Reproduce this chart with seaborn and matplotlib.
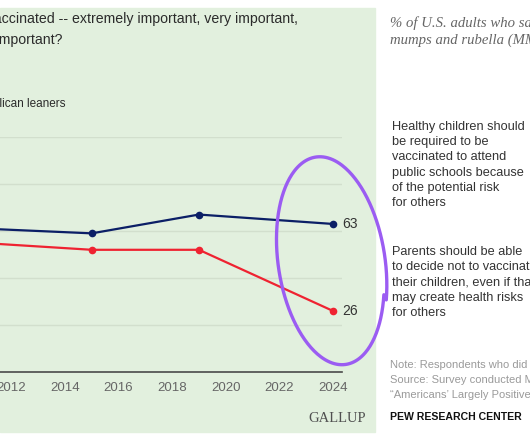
import numpy as np
import pandas as pd
import matplotlib
matplotlib.use('Agg')
import matplotlib.pyplot as plt
import seaborn as sns
from matplotlib.lines import Line2D
from matplotlib.patches import Rectangle

# Gallup: % saying it is extremely important to vaccinate children, by party
years = [2001, 2015, 2019, 2024]
dem_values = [66, 59, 67, 63]
rep_values = [62, 52, 52, 26]
series_names = ['Democrats and Democratic leaners', 'Republicans and Republican leaners']
series_colors = {'Democrats and Democratic leaners': '#0b1f66',
                 'Republicans and Republican leaners': '#ef2331'}
x_ticks = list(range(2012, 2025, 2))
y_ticks = [0, 20, 40, 60, 80, 100]

gallup_title = ['How important is it that parents get their children vaccinated -- extremely important, very important,',
                'somewhat important or not at all important?']

# Pew side (cropped)
pew_title = ['% of U.S. adults who say, when it comes to the measles,',
             'mumps and rubella (MMR) vaccine, ...']
pew_label_1 = ['Healthy children should', 'be required to be', 'vaccinated to attend',
               'public schools because', 'of the potential risk', 'for others']
pew_label_2 = ['Parents should be able', 'to decide not to vaccinate', 'their children, even if that',
               'may create health risks', 'for others']
pew_notes = ['Note: Respondents who did not give an answer are not shown.',
             'Source: Survey conducted May 16-22, 2022.',
             '\u201cAmericans\u2019 Largely Positive Views of Childhood Vaccines Hold Steady\u201d']

df = pd.DataFrame({
    'Year': years * 2,
    'Value': dem_values + rep_values,
    'Group': [series_names[0]] * len(years) + [series_names[1]] * len(years),
})

sns.set_style('white')
plt.rcParams['font.family'] = ['Liberation Sans', 'DejaVu Sans']

W, H = 530, 442
fig = plt.figure(figsize=(W / 100, H / 100), dpi=100)

def fx(px):
    return px / W

def fy(py):
    return 1 - py / H

# green Gallup panel
fig.patches.append(Rectangle((0, fy(432)), fx(375), fy(8) - fy(432),
                             transform=fig.transFigure, color='#e2f0de', zorder=-5))

# axes wider than the figure so the left part is cropped, like the screenshot
ax_left, ax_right = -292.5, 342
ax = fig.add_axes([fx(ax_left), fy(372), fx(ax_right - ax_left), (372 - 137) / H])
ax.set_facecolor('none')

sns.lineplot(data=df, x='Year', y='Value', hue='Group', palette=series_colors,
             marker='o', markersize=5.5, markeredgewidth=0, linewidth=1.6,
             legend=False, ax=ax, zorder=3)

ax.set_xlim(2000.66, 2024.34)
ax.set_ylim(0, 100)
ax.set_xticks(x_ticks)
ax.set_yticks(y_ticks)
ax.set_yticklabels([])
ax.set_xlabel('')
ax.set_ylabel('')
ax.grid(axis='y', color='#d2dfcd', linewidth=1)
ax.grid(axis='x', visible=False)
for side in ['top', 'right', 'left']:
    ax.spines[side].set_visible(False)
ax.spines['bottom'].set_color('#4a4a4a')
ax.spines['bottom'].set_linewidth(1.2)
ax.tick_params(axis='both', length=0, labelsize=9.5, labelcolor='#666666', pad=7)

ax.annotate(str(dem_values[-1]), (years[-1], dem_values[-1]), xytext=(7, 0),
            textcoords='offset points', va='center', ha='left', fontsize=10, color='#333333')
ax.annotate(str(rep_values[-1]), (years[-1], rep_values[-1]), xytext=(7, 0),
            textcoords='offset points', va='center', ha='left', fontsize=10, color='#333333')

# Gallup titles (cropped on the left)
fig.text(fx(298), fy(19), gallup_title[0], ha='right', va='center', fontsize=10.2, color='#2b2b2b')
fig.text(fx(63), fy(40), gallup_title[1], ha='right', va='center', fontsize=10.2, color='#2b2b2b')
fig.text(fx(66), fy(104), series_names[1], ha='right', va='center', fontsize=8.5, color='#2b2b2b')
fig.text(fx(366), fy(418), 'GALLUP', ha='right', va='center', fontsize=10.5,
         family=['Liberation Serif', 'DejaVu Serif'], color='#505050')

# Pew side
for i, line in enumerate(pew_title):
    fig.text(fx(390), fy(23 + i * 17), line, ha='left', va='center', fontsize=10.6,
             style='italic', family=['Liberation Serif', 'DejaVu Serif'], color='#666666')
for i, line in enumerate(pew_label_1):
    fig.text(fx(392), fy(127 + i * 15.2), line, ha='left', va='center', fontsize=9.2, color='#333333')
for i, line in enumerate(pew_label_2):
    fig.text(fx(392), fy(252 + i * 15.2), line, ha='left', va='center', fontsize=9.2, color='#333333')
for i, line in enumerate(pew_notes):
    fig.text(fx(390), fy(365 + i * 15), line, ha='left', va='center', fontsize=8, color='#9a9a9a')
fig.text(fx(390), fy(417), 'PEW RESEARCH CENTER', ha='left', va='center', fontsize=7.6,
         fontweight='bold', color='#111111')

# hand drawn purple circle around 2024
t = np.radians(np.linspace(12, 374, 300))
grow = 1 + 0.05 * (t - t[0]) / (t[-1] - t[0])
cx, cy, a, b = 331, 262, 53, 101
px = cx + grow * (a * np.cos(t) + 5 * np.sin(t))
py = cy + grow * (b * np.sin(t) + 12 * np.cos(t))
fig.add_artist(Line2D(fx(px), fy(py), transform=fig.transFigure, color='#9b5cf2',
                      linewidth=2.4, solid_capstyle='round', zorder=10))

fig.savefig('out.png', dpi=100)
